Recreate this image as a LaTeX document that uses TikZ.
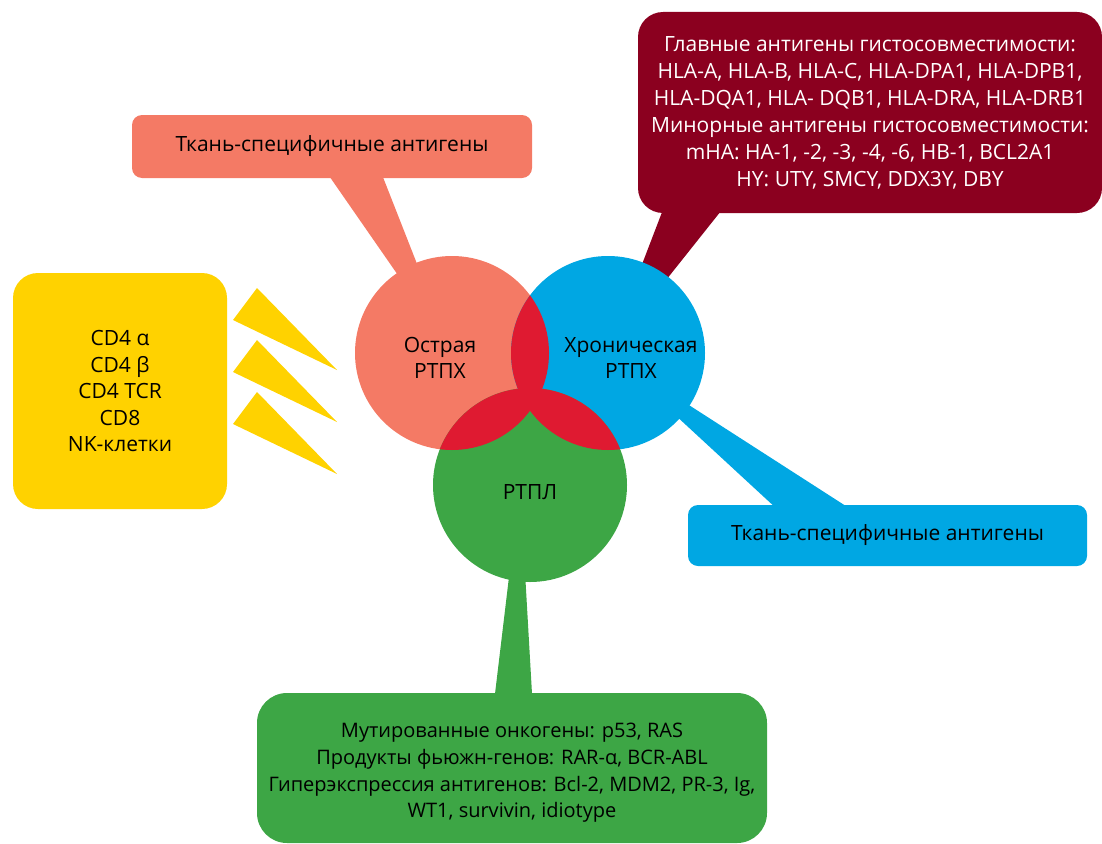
\documentclass[tikz,border=0pt]{standalone}
\usepackage{fontspec}
\setmainfont{Open Sans}
\usetikzlibrary{positioning,calc}

\definecolor{acuteC}{HTML}{F47A65}
\definecolor{chronicC}{HTML}{00A7E3}
\definecolor{gvlC}{HTML}{3DA645}
\definecolor{overlapC}{HTML}{DF1A31}
\definecolor{mhcC}{HTML}{8B001F}
\definecolor{effC}{HTML}{FFD200}

\begin{document}
\begin{tikzpicture}[
    x=1pt, y=-1pt,
    bubble/.style={rounded corners=10pt, inner sep=0pt, align=center, font=\fontsize{21}{27}\selectfont},
    circtext/.style={align=center, font=\fontsize{21}{26}\selectfont}
]
\useasboundingbox (0,0) rectangle (1102,843);

% circle centres
\def\rad{97}
\coordinate (cA) at (452,353);
\coordinate (cB) at (608,353);
\coordinate (cC) at (530,485);

% callout boxes
\node[bubble, fill=acuteC, minimum width=400pt, minimum height=63pt] (tsaA) at (332,146.5) {Ткань-специфичные антигены};
\node[bubble, fill=mhcC, text=white, rounded corners=25pt, minimum width=464pt, minimum height=201pt] (hla) at (870,112.5)
  {Главные антигены гистосовместимости:\\
   HLA-A, HLA-B, HLA-C, HLA-DPA1, HLA-DPB1,\\
   HLA-DQA1, HLA- DQB1, HLA-DRA, HLA-DRB1\\
   Минорные антигены гистосовместимости:\\
   mHA: HA-1, -2, -3, -4, -6, HB-1, BCL2A1\\
   HY: UTY, SMCY, DDX3Y, DBY};
\node[bubble, fill=chronicC, minimum width=399pt, minimum height=61pt] (tsaB) at (887.5,535.5) {Ткань-специфичные антигены};
\node[bubble, fill=gvlC, rounded corners=30pt, minimum width=510pt, minimum height=150pt] (tumor) at (512,768) {};
\node[bubble, font=\fontsize{20}{26.7}\selectfont] (tumorText) at (512,773)
  {Мутированные онкогены: p53, RAS\\
   Продукты фьюжн-генов: RAR-α, BCR-ABL\\
   Гиперэкспрессия антигенов: Bcl-2, MDM2, PR-3, Ig,\\
   WT1, survivin, idiotype};
\node[bubble, fill=effC, rounded corners=25pt, minimum width=214pt, minimum height=236pt,
      font=\fontsize{21}{26.5}\selectfont] (effectors) at (120,391)
  {CD4 α\\ CD4 β\\ CD4 TCR\\ CD8\\ NK-клетки};

% callout tails
\fill[acuteC] ([xshift=-2pt,yshift=1pt]tsaA.south) -- ([xshift=51pt,yshift=1pt]tsaA.south) -- (cA) -- cycle;
\fill[mhcC] ([xshift=-208pt,yshift=1pt]hla.south) -- ([xshift=-150pt,yshift=1pt]hla.south) -- (cB) -- cycle;
\fill[chronicC] ([xshift=-114pt,yshift=-1pt]tsaB.north) -- ([xshift=-42pt,yshift=-1pt]tsaB.north) -- (cB) -- cycle;
\fill[gvlC] ([xshift=-17pt,yshift=-1pt]tumor.north) -- ([xshift=20pt,yshift=-1pt]tumor.north) -- ([xshift=-10pt]cC) -- cycle;

% arrows towards the acute circle
\foreach \dy in {0,52,104}
  \fill[effC] (257,288+\dy) -- (233,320+\dy) -- (337,370+\dy) -- cycle;

% three circles
\fill[acuteC] (cA) circle (\rad);
\fill[chronicC] (cB) circle (\rad);
\fill[gvlC] (cC) circle (\rad);

% overlaps
\begin{scope}
  \clip (cA) circle (\rad);
  \fill[overlapC] (cB) circle (\rad);
  \fill[overlapC] (cC) circle (\rad);
\end{scope}
\begin{scope}
  \clip (cB) circle (\rad);
  \fill[overlapC] (cC) circle (\rad);
\end{scope}

% circle labels
\node[circtext] (acuteL) at (440,358) {Острая\\РТПХ};
\node[circtext] (chronicL) at (631,358) {Хроническая\\РТПХ};
\node[circtext] (gvlL) at (530,492) {РТПЛ};

\end{tikzpicture}
\end{document}
